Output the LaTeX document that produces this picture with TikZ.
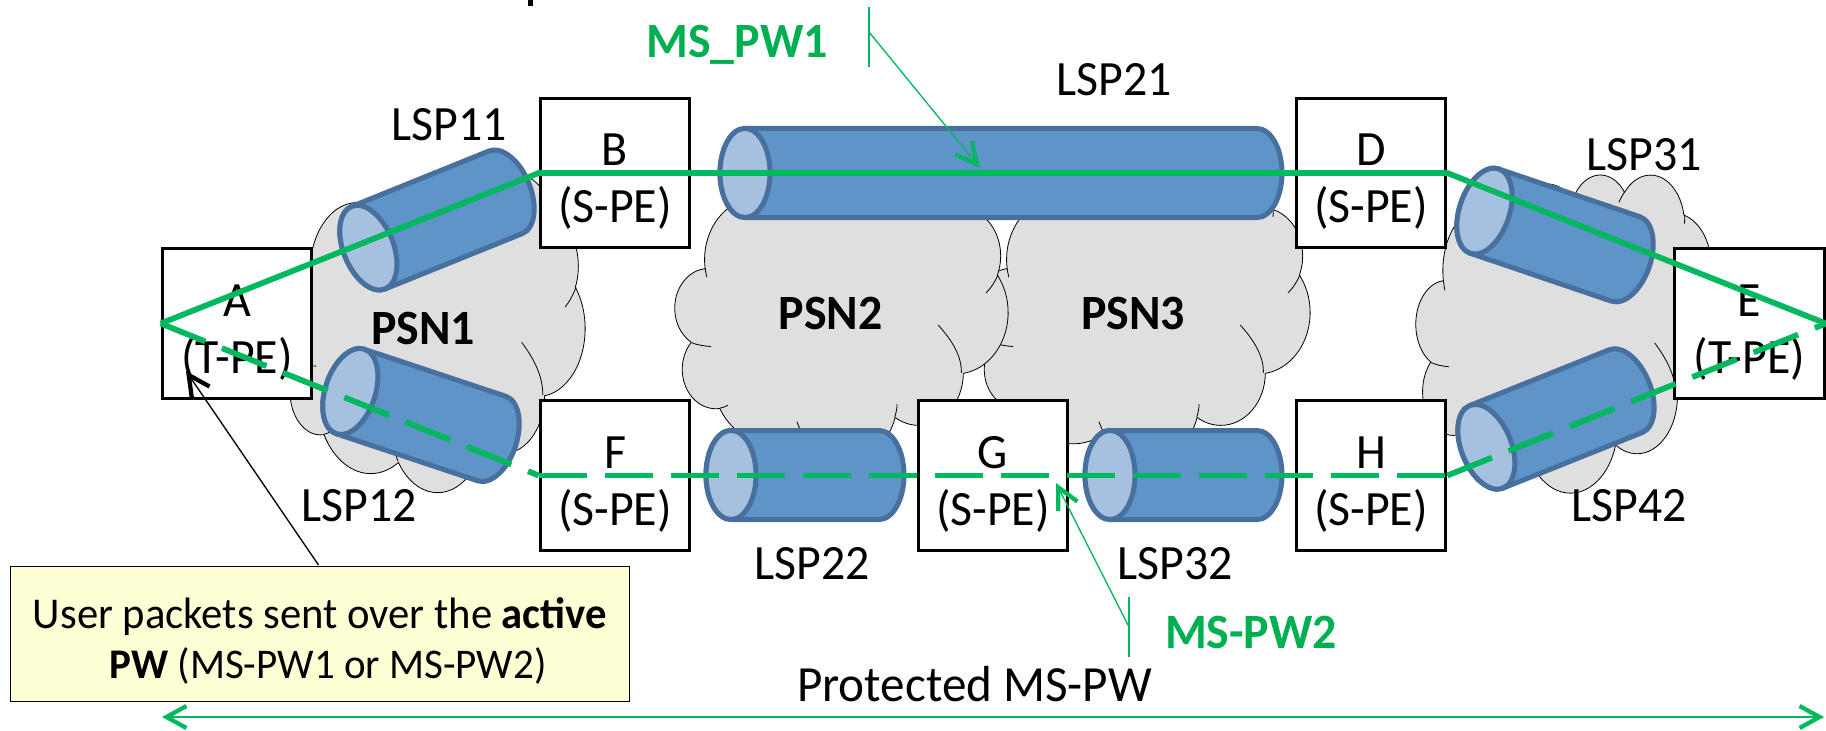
\documentclass[tikz,border=0pt]{standalone}
\usepackage{fontspec}
\setmainfont{Carlito}[FakeStretch=0.97]
\usetikzlibrary{arrows.meta}
\definecolor{cloudgray}{HTML}{DFDFDF}
\definecolor{cylbody}{HTML}{5F94C8}
\definecolor{cyledge}{HTML}{48709E}
\definecolor{cylface}{HTML}{A6C0E0}
\definecolor{pwgreen}{HTML}{00B85E}
\definecolor{txtgreen}{HTML}{00B050}
\definecolor{notefill}{HTML}{FFFFD5}
\newcommand\ca[4]{arc[x radius=#1pt,y radius=#2pt,start angle={cldang(#1,#2,#3)},delta angle={Mod(cldang(#1,#2,(#3)+(#4))-cldang(#1,#2,#3),360)}]}
\newcommand\cloudpath{(3.9pt,14.37pt) \ca{6.753}{9.19}{-190.4875}{123.7805} \ca{5.333}{7.267}{-144.1024}{89.9452} \ca{4.365}{5.945}{-145.8079}{99.723} \ca{4.857}{6.595}{-130.9861}{117.2417} \ca{5.333}{7.273}{-78.7089}{109.0255} \ca{6.775}{9.22}{-46.2673}{130.269} \ca{5.785}{7.867}{0.625}{114.033} \ca{6.752}{9.215}{22.4516}{115.1726} \ca{7.72}{10.543}{66.2426}{75.711} \ca{4.36}{5.918}{-274.9421}{146.7356} \ca{4.345}{5.945}{-246.8285}{152.5189} -- cycle}
\newcommand\psncloud[4]{\begin{scope}[shift={(#1,#2)},xscale=#3/43.2*0.75,yscale=#4/43.2*0.75]
\draw[cloudline,fill=cloudgray] \cloudpath;
\draw[cloudline] (2.16pt,25.62pt) .. controls (2.95pt,25.95pt) and (3.8pt,26.12pt) .. (4.69pt,26.18pt);
\draw[cloudline] (3.9pt,14.37pt) .. controls (3.95pt,14.85pt) and (4.03pt,15.33pt) .. (4.13pt,15.79pt);
\draw[cloudline] (5.83pt,35.42pt) .. controls (6.2pt,35.35pt) and (6.55pt,35.2pt) .. (6.87pt,34.99pt);
\draw[cloudline] (16.42pt,39.1pt) .. controls (16.2pt,38.55pt) and (16pt,38pt) .. (15.81pt,37.45pt);
\draw[cloudline] (28.51pt,36.72pt) .. controls (28.7pt,36.1pt) and (28.8pt,35.45pt) .. (28.81pt,34.82pt);
\draw[cloudline] (37.15pt,30.11pt) .. controls (37.2pt,27.7pt) and (36pt,25.3pt) .. (34.13pt,22.94pt);
\draw[cloudline] (41.9pt,15.42pt) .. controls (41.5pt,16.5pt) and (41pt,17.4pt) .. (40.35pt,18.14pt);
\draw[cloudline] (38.45pt,5.53pt) .. controls (38.45pt,5.9pt) and (38.42pt,6.3pt) .. (38.4pt,6.74pt);
\draw[cloudline] (29.81pt,2.46pt) .. controls (29.5pt,2.9pt) and (29.25pt,3.35pt) .. (29.03pt,3.84pt);
\end{scope}}
\newcommand\lspcyl[4]{\begin{scope}[shift={(#1,#2)},rotate=#3]
\draw[cyledge,line width=3.75pt,fill=cylbody,line join=round] (-#4/2,-44.5) -- (#4/2,-44.5) arc[start angle=-90,delta angle=180,x radius=18.75pt,y radius=33.4pt] -- (-#4/2,44.5) arc[start angle=90,delta angle=180,x radius=18.75pt,y radius=33.4pt] -- cycle;
\draw[cyledge,line width=3.75pt,fill=cylface] (-#4/2,44.5) arc[start angle=90,delta angle=360,x radius=18.75pt,y radius=33.4pt] -- cycle;
\end{scope}}
\tikzset{
 cloudline/.style={draw=black,line width=0.6pt},
 peBox/.style={draw=black,fill=white,line width=2.2pt,minimum width=112.3pt,minimum height=112.3pt,align=center,inner sep=0pt,font=\fontsize{37}{42.75}\selectfont},
 lsplabel/.style={anchor=base,inner sep=0pt,font=\fontsize{37}{40}\selectfont},
 psnlabel/.style={anchor=base,inner sep=0pt,font=\fontsize{37}{40}\selectfont\bfseries},
 pwlabel/.style={anchor=base,inner sep=0pt,text=txtgreen,font=\fontsize{37}{40}\selectfont\bfseries},
 pwline/.style={draw=pwgreen,line width=4.3pt},
 pwdash/.style={draw=pwgreen,line width=4.3pt,dash pattern=on 36pt off 13.5pt},
 thinline/.style={draw=pwgreen,line width=1pt},
 greenhead/.style={thinline,-{Straight Barb[length=16pt,width=16pt,line width=3.2pt]}},
 blackhead/.style={draw=black,line width=1pt,-{Straight Barb[length=16pt,width=16pt,line width=3.2pt]}},
 spanarrow/.style={draw=pwgreen,line width=2pt,{Straight Barb[length=15pt,width=16.5pt,line width=3.2pt]}-{Straight Barb[length=15pt,width=16.5pt,line width=3.2pt]}},
}
\begin{document}
\begin{tikzpicture}[x=0.75pt,y=0.75pt,yscale=-1,line cap=butt,declare function={cldang(\w,\h,\a)=atan2(sin(\a)*\w,cos(\a)*\h);}]
\useasboundingbox (0,0) rectangle (1826,731);
\fill[black] (527.5,0) rectangle (532.5,6);
\psncloud{977}{172}{333}{288}
\psncloud{675}{172}{333}{288}
\psncloud{283.4}{173.5}{301.6}{318}
\psncloud{1416}{174}{302}{318}
\node[psnlabel] (psn1) at (423,344) {PSN1};
\node[psnlabel] (psn2) at (830.5,329) {PSN2};
\node[psnlabel] (psn3) at (1133,329) {PSN3};
\node[peBox] (A) at (237,323.5) {\rule{0pt}{37pt}A\\(T-PE)};
\node[peBox] (B) at (615,173) {\rule{0pt}{37pt}B\\(S-PE)};
\node[peBox] (D) at (1371,173) {\rule{0pt}{37pt}D\\(S-PE)};
\node[peBox] (E) at (1749.5,323.5) {\rule{0pt}{37pt}E\\(T-PE)};
\node[peBox] (F) at (615,475.5) {\rule{0pt}{37pt}F\\(S-PE)};
\node[peBox] (G) at (993,475.5) {\rule{0pt}{37pt}G\\(S-PE)};
\node[peBox] (H) at (1371,475.5) {\rule{0pt}{37pt}H\\(S-PE)};
\lspcyl{437}{220}{-22}{148}
\lspcyl{421}{415}{18.4}{149}
\lspcyl{1001}{173}{0}{512}
\lspcyl{805}{475}{0}{148}
\lspcyl{1183.5}{475}{0}{147}
\lspcyl{1555}{235}{18.7}{149}
\lspcyl{1556}{419}{-21.8}{150}
\node[lsplabel] (l11) at (449,141) {LSP11};
\node[lsplabel] (l21) at (1114.5,96) {LSP21};
\node[lsplabel] (l31) at (1644,171) {LSP31};
\node[lsplabel] (l12) at (359,521) {LSP12};
\node[lsplabel] (l22) at (812.5,579) {LSP22};
\node[lsplabel] (l32) at (1175,579) {LSP32};
\node[lsplabel] (l42) at (1629,521) {LSP42};
\node[pwlabel] (pw1) at (737,58) {MS\_PW1};
\node[pwlabel] (pw2) at (1251,648) {MS-PW2};
\node[lsplabel,font=\fontsize{38}{40}\selectfont] (prot) at (974.5,701) {Protected MS-PW};
\node[draw=black,fill=notefill,line width=1.1pt,minimum width=464pt,minimum height=101pt,inner sep=0pt,align=center,font=\fontsize{33}{37.5}\selectfont] (note) at (320,634) {\rule{0pt}{33pt}User packets sent over the \textbf{active}\\\hspace*{12pt}{\fontsize{31.7}{37.5}\selectfont\textbf{PW} (MS-PW1 or MS-PW2)}};
\draw[pwline,line join=miter] (A.west) -- (B.west) -- (D.east) -- (E.east);
\draw[pwdash] (A.west) -- (F.west);
\draw[pwdash] (F.west) -- (H.east);
\draw[pwdash] (H.east) -- (E.east);
\coordinate (p1t) at (869,7); \coordinate (p1b) at (869,67); \coordinate (p1k) at (869,32); \coordinate (p1tip) at (980,168);
\draw[thinline] (p1t) -- (p1b);
\draw[greenhead] (p1k) -- (p1tip);
\coordinate (p2t) at (1129,597); \coordinate (p2b) at (1129,657); \coordinate (p2k) at (1129,627); \coordinate (p2tip) at (1056,483);
\draw[thinline] (p2t) -- (p2b);
\draw[greenhead] (p2k) -- (p2tip);
\coordinate (ntail) at (318.5,565); \coordinate (ntip) at (186,371);
\draw[blackhead] (ntail) -- (ntip);
\coordinate (sl) at (162,717); \coordinate (sr) at (1824,717);
\draw[spanarrow] (sl) -- (sr);
\end{tikzpicture}
\end{document}
